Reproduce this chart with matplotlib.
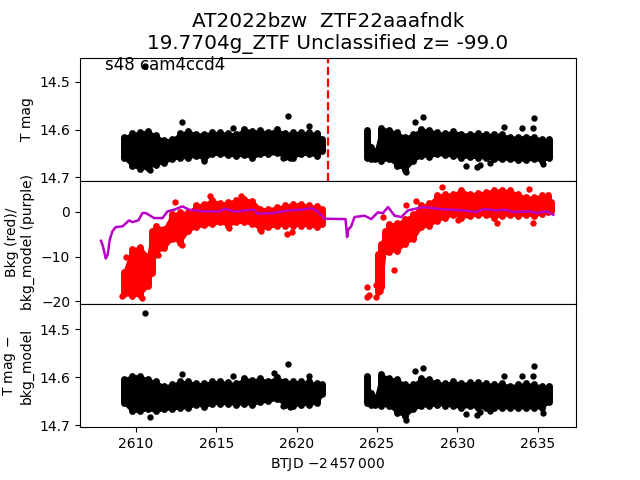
import matplotlib
matplotlib.use("Agg")
import matplotlib.pyplot as plt

# --- T mag panel: brightness range per time bin
top_t = [2609.25,2609.75,2610.25,2610.75,2611.25,2611.75,2612.25,2612.75,2613.25,2613.75,2614.25,2614.75,2615.25,2615.75,2616.25,2616.75,2617.25,2617.75,2618.25,2618.75,2619.25,2619.75,2620.25,2620.75,2621.25,2621.6,
         2624.35,2624.6,2624.9,2625.25,2625.75,2626.25,2626.75,2627.25,2627.75,2628.25,2628.75,2629.25,2629.75,2630.25,2630.75,2631.25,2631.75,2632.25,2632.75,2633.25,2633.75,2634.25,2634.75,2635.25,2635.7]
top_hi = [14.616,14.608,14.606,14.603,14.612,14.622,14.620,14.608,14.603,14.609,14.609,14.606,14.606,14.608,14.609,14.599,14.603,14.602,14.606,14.599,14.608,14.606,14.606,14.606,14.608,14.620,
          14.602,14.637,14.644,14.596,14.601,14.606,14.616,14.609,14.599,14.601,14.606,14.608,14.603,14.609,14.609,14.608,14.609,14.610,14.609,14.616,14.615,14.615,14.615,14.620,14.620]
top_lo = [14.659,14.676,14.682,14.680,14.673,14.669,14.662,14.659,14.659,14.655,14.662,14.652,14.652,14.654,14.655,14.654,14.659,14.652,14.652,14.650,14.657,14.659,14.652,14.652,14.655,14.645,
          14.659,14.662,14.662,14.666,14.662,14.676,14.684,14.666,14.655,14.657,14.652,14.654,14.655,14.659,14.657,14.659,14.659,14.662,14.662,14.662,14.664,14.664,14.662,14.666,14.659]
top_out_t = [2610.58,2619.45,2612.9,2620.76,2616.02,2614.25,2619.18,2619.6,2610.89,2627.86,2627.34,2634.77,2634.71,2632.88,2634.03,2630.52,2631.22,2631.39,2632.01,2635.33,2626.78]
top_out_y = [14.468,14.571,14.585,14.592,14.597,14.666,14.660,14.660,14.685,14.573,14.585,14.575,14.597,14.594,14.597,14.676,14.678,14.673,14.669,14.672,14.688]

# --- Background panel
bkg_t = [2609.25,2609.75,2610.25,2610.75,2611.0,2611.25,2611.75,2612.25,2612.75,2613.25,2613.75,2614.25,2614.75,2615.25,2615.75,2616.25,2616.75,2617.25,2617.75,2618.25,2618.75,2619.25,2619.75,2620.25,2620.75,2621.25,2621.6,
         2625.07,2625.26,2625.5,2625.75,2626.25,2626.75,2627.25,2627.75,2628.25,2628.75,2629.25,2629.75,2630.25,2630.75,2631.25,2631.75,2632.25,2632.75,2633.25,2633.75,2634.25,2634.75,2635.25,2635.6,2635.8]
bkg_hi = [-13.5,-8.3,-7.9,-9.8,-4.2,-3.1,-3.8,-0.5,-0.1,-0.1,1.4,1.8,2.7,1.9,2.2,2.7,2.9,2.5,0.7,0.7,1.0,1.4,1.8,1.8,1.4,1.2,0.7,
          -9.4,-7.2,-4.2,-2.8,-2.5,-1.6,-0.5,1.4,1.9,3.7,4.0,4.0,4.9,4.0,4.2,4.4,4.9,4.8,4.8,4.0,3.3,3.3,3.7,3.7,2.2]
bkg_lo = [-18.4,-18.8,-18.6,-16.6,-13.6,-9.1,-8.2,-6.1,-6.9,-4.3,-3.5,-3.0,-2.8,-2.4,-3.1,-2.4,-2.4,-2.8,-3.9,-3.5,-3.1,-3.1,-3.1,-3.1,-3.1,-3.5,-2.8,
          -18.0,-16.9,-8.7,-8.9,-8.7,-7.2,-6.0,-3.5,-3.1,-2.0,-1.3,-0.7,-1.3,-1.0,-0.7,-0.7,-1.3,-0.9,-0.7,-0.9,-0.7,-0.9,-0.5,0.0,0.2]
bkg_out_t = [2609.42,2612.41,2612.86,2611.35,2615.77,2619.39,2619.7,2609.17,2610.37,2617.79,2614.59,2616.54,
             2629.04,2626.05,2626.8,2627.44,2625.37,2624.37,2624.37,2624.5,2624.95,2624.95,2625.2,2634.46,2630.04,2632.43,2634.71]
bkg_out_y = [-10.1,2.2,-7.5,-9.6,-3.65,-5.0,-4.55,-18.9,-19.2,-4.25,3.43,3.58,
             5.5,-13.05,1.49,2.46,-1.2,-16.7,-19.1,-18.6,-16.3,-19.0,-17.8,5.07,-1.8,-2.5,-2.5]
model_t = [2607.84,2607.96,2608.13,2608.25,2608.38,2608.54,2608.75,2609.17,2609.58,2609.79,2610.16,2610.41,2610.62,2611.14,2611.66,2611.97,2612.39,2612.9,2613.32,2614.25,2615.19,2615.5,2616.23,2616.85,2617.37,2617.58,2618.51,2619.55,2620.38,2620.9,2621.32,2621.73,
           2623.04,2623.14,2623.2,2623.39,2623.6,2624.22,2624.64,2625.05,2625.37,2625.68,2626.09,2626.51,2626.92,2627.86,2628.9,2630.35,2631.18,2631.6,2632.43,2632.95,2633.47,2634.5,2634.92,2635.54,2635.96]
model_y = [-6.49,-7.75,-10.44,-9.62,-6.26,-4.40,-3.43,-3.28,-1.94,-2.31,-1.94,-0.30,-0.30,-1.42,-1.42,0.07,0.45,1.19,0.45,0.07,0.07,0.67,0.0,0.3,0.45,-0.45,-0.30,0.30,0.45,0.82,0.07,-1.57,
           -1.64,-5.67,-4.03,-3.28,-1.19,-0.89,-1.64,-0.15,-0.30,1.04,-0.89,-1.19,0.30,1.04,0.60,0.30,-0.07,0.60,0.30,0.45,-0.07,0.07,-0.30,0.07,-0.67]

# --- T mag minus background model panel
cor_t = top_t
cor_hi = [14.604,14.597,14.597,14.604,14.609,14.618,14.615,14.609,14.609,14.613,14.613,14.609,14.609,14.611,14.613,14.602,14.606,14.602,14.609,14.599,14.608,14.609,14.609,14.609,14.613,14.615,
          14.597,14.632,14.642,14.594,14.602,14.604,14.615,14.615,14.602,14.604,14.611,14.613,14.609,14.613,14.611,14.611,14.613,14.615,14.613,14.618,14.615,14.613,14.615,14.618,14.618]
cor_lo = [14.654,14.671,14.671,14.667,14.671,14.667,14.666,14.664,14.664,14.657,14.662,14.655,14.655,14.655,14.657,14.655,14.657,14.652,14.650,14.646,14.657,14.660,14.657,14.657,14.654,14.636,
          14.653,14.657,14.657,14.659,14.660,14.674,14.681,14.667,14.660,14.660,14.657,14.659,14.660,14.664,14.660,14.664,14.664,14.664,14.664,14.664,14.664,14.664,14.664,14.664,14.652]
cor_out_t = [2610.58,2619.45,2612.9,2620.76,2616.02,2618.57,2610.89,2619.18,2619.6,2627.86,2627.34,2634.77,2634.71,2632.88,2634.03,2630.52,2631.22,2631.39,2632.01,2635.33,2626.78]
cor_out_y = [14.467,14.573,14.594,14.597,14.598,14.591,14.683,14.660,14.663,14.580,14.587,14.576,14.598,14.598,14.598,14.677,14.678,14.673,14.671,14.674,14.688]

sector_end = 2621.95
top_ticks = [14.5, 14.6, 14.7]
mid_ticks = [-20, -10, 0]
x_ticks = [2610, 2615, 2620, 2625, 2630, 2635]


def cloud(ax, t, lo, hi, out_t, out_y, color):
    # one filled band per orbit, rounded caps per time bin, plus lone points
    cut = [i + 1 for i in range(len(t) - 1) if t[i + 1] - t[i] > 1]
    for a, b in zip([0] + cut, cut + [len(t)]):
        ax.fill_between(t[a:b], lo[a:b], hi[a:b], color=color, lw=1.5, zorder=2)
    ax.vlines(t, lo, hi, color=color, linewidth=5.0, capstyle='round', zorder=2)
    ax.scatter(out_t, out_y, s=21, color=color, linewidths=0, zorder=2)


fig, (a1, a2, a3) = plt.subplots(3, 1, sharex=True, figsize=(6.4, 4.8), dpi=100)
fig.subplots_adjust(hspace=0)

cloud(a1, top_t, top_lo, top_hi, top_out_t, top_out_y, 'k')
a1.axvline(sector_end, color='r', ls='--', lw=1.6)
a1.set_ylim(14.707, 14.45)
a1.set_yticks(top_ticks)
a1.set_ylabel('T mag')
a1.text(2608.08, 14.475, 's48 cam4ccd4', fontsize=12, zorder=5)
a1.set_title('AT2022bzw  ZTF22aaafndk\n19.7704g_ZTF Unclassified z= -99.0', fontsize=14.4)

cloud(a2, bkg_t, bkg_lo, bkg_hi, bkg_out_t, bkg_out_y, 'r')
a2.plot(model_t, model_y, color='#b800c8', lw=1.8, zorder=3)
a2.set_ylim(-20.6, 6.9)
a2.set_yticks(mid_ticks)
a2.set_ylabel('Bkg (red)/\nbkg_model (purple)')

cloud(a3, cor_t, cor_lo, cor_hi, cor_out_t, cor_out_y, 'k')
a3.set_ylim(14.704, 14.448)
a3.set_yticks(top_ticks)
a3.set_ylabel('T mag $-$\nbkg_model')
a3.set_xlim(2606.53, 2637.37)
a3.set_xticks(x_ticks)
a3.set_xlabel('BTJD $-2\\,457\\,000$')

a1.tick_params(axis='x', bottom=False)
a2.tick_params(axis='x', bottom=False)

fig.savefig('out.png', dpi=100)
